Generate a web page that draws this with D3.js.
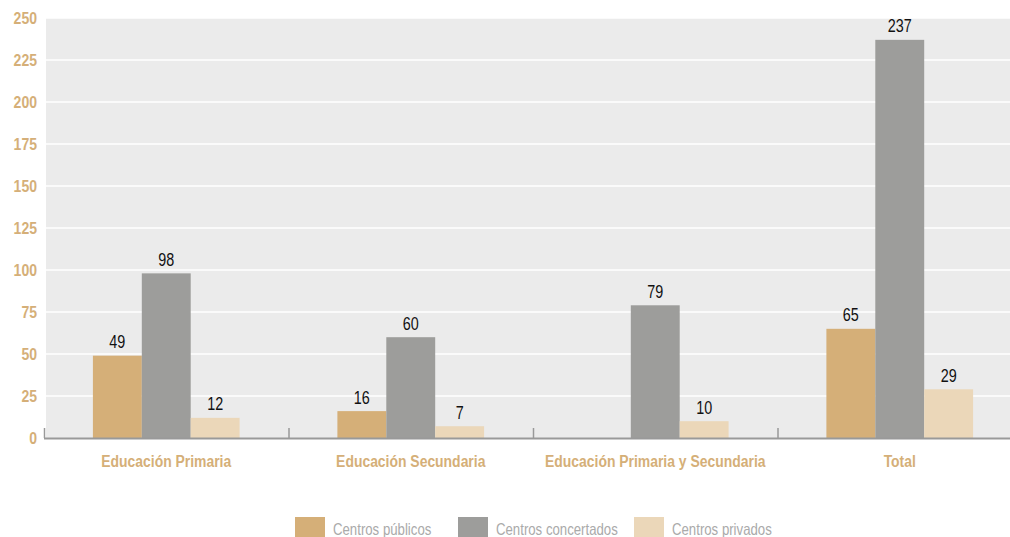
<!DOCTYPE html>
<html><head><meta charset="utf-8">
<script src="https://cdn.jsdelivr.net/npm/d3@7"></script>
<style>
body{margin:0;background:#fff;}
svg text{font-family:"Liberation Sans",Arial,sans-serif;}
</style></head>
<body><svg id="c" width="1010" height="537"></svg>
<script>
const categories = ["Educación Primaria","Educación Secundaria","Educación Primaria y Secundaria","Total"];
const seriesNames = ["Centros públicos","Centros concertados","Centros privados"];
const publicos = [49,16,0,65];
const concertados = [98,60,79,237];
const privados = [12,7,10,29];
const yTicks = [0,25,50,75,100,125,150,175,200,225,250];
const colors = ["#D5AF78","#9D9D9B","#EBD7B9"];

const series = [publicos, concertados, privados];
const svg = d3.select("#c");
const W = 1010, H = 537;
const x0 = d3.scaleBand().domain(categories).range([44, 1022]).paddingInner(0).paddingOuter(0);
const x1 = d3.scaleBand().domain(seriesNames).range([0, x0.bandwidth()]).paddingInner(0).paddingOuter(1);
const y = d3.scaleLinear().domain([0,250]).range([438, 18]);

function condense(sel, f){
  sel.each(function(){
    const n = this.getComputedTextLength();
    d3.select(this).attr("textLength", n*f).attr("lengthAdjust","spacingAndGlyphs");
  });
}

svg.append("rect").attr("x", 46).attr("y", y(250)).attr("width", W - 46).attr("height", y(0)-y(250)).attr("fill","#EBEBEB");

svg.append("g").selectAll("line").data(yTicks.filter(d=>d>0)).join("line")
  .attr("x1", 46).attr("x2", W).attr("y1", d=>y(d)).attr("y2", d=>y(d))
  .attr("stroke","#fff").attr("stroke-width",1.5);

svg.append("g").selectAll("text").data(yTicks).join("text")
  .attr("x", 37).attr("y", d=>y(d)+6).attr("text-anchor","end")
  .attr("fill","#D5AF78").attr("font-weight","bold").attr("font-size",16.5).text(d=>d)
  .call(condense, 0.85);

const g = svg.append("g");
categories.forEach((c,ci)=>{
  seriesNames.forEach((s,si)=>{
    const v = series[si][ci];
    const bx = x0(c) + x1(s);
    g.append("rect").attr("x", bx).attr("y", y(v)).attr("width", x1.bandwidth()).attr("height", Math.max(0, y(0)-y(v)))
      .attr("fill", colors[si]);
    if (v > 0) {
      g.append("text").attr("x", bx + x1.bandwidth()/2).attr("y", y(v) - 7.5).attr("text-anchor","middle")
        .attr("font-size",17.5).attr("fill","#111").text(v).call(condense, 0.82);
    }
  });
});

// baseline & ticks
svg.append("line").attr("x1", 44).attr("x2", W).attr("y1", y(0)+0.5).attr("y2", y(0)+0.5).attr("stroke","#999").attr("stroke-width",2);
svg.append("g").selectAll("line").data(categories).join("line")
  .attr("x1", d=>x0(d)+0.5).attr("x2", d=>x0(d)+0.5).attr("y1", y(0)-10).attr("y2", y(0))
  .attr("stroke","#999").attr("stroke-width",1.5);

svg.append("g").selectAll("text").data(categories).join("text")
  .attr("x", d=>x0(d)+x0.bandwidth()/2).attr("y", 467).attr("text-anchor","middle")
  .attr("fill","#D5AF78").attr("font-weight","bold").attr("font-size",16).text(d=>d)
  .call(condense, 0.87);

// legend
const legX = [295, 458, 634];
const lg = svg.append("g");
seriesNames.forEach((s,i)=>{
  lg.append("rect").attr("x", legX[i]).attr("y", 517).attr("width", 30).attr("height", 20).attr("fill", colors[i]);
  lg.append("text").attr("x", legX[i]+38).attr("y", 535).attr("font-size",16.5).attr("fill","#AAAAAA").text(s)
    .call(condense, 0.8);
});
</script></body></html>
